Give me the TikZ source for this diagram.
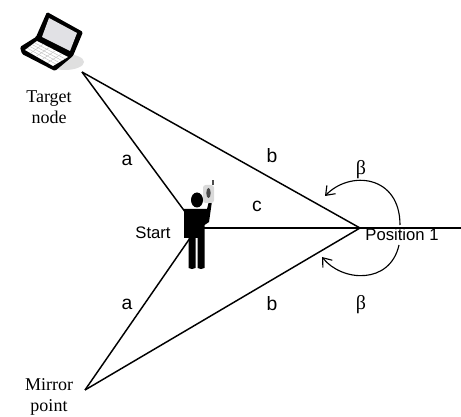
\documentclass[tikz,border=0pt]{standalone}
\usepackage{xcolor}
\usepackage{fontspec}
\setmainfont{Liberation Serif}
\setsansfont{Liberation Sans}
\usetikzlibrary{arrows.meta, calc}

\begin{document}
\begin{tikzpicture}[
  x=0.75pt, y=-0.75pt,
  edge/.style={line width=1.1pt, draw=black},
  angle/.style={-{Straight Barb[length=6pt, width=9pt]}, line width=0.85pt, draw=black},
  sanslabel/.style={font=\sffamily\fontsize{12.5}{14}\selectfont, inner sep=0pt},
  sideletter/.style={font=\sffamily\fontsize{14.5}{16}\selectfont, inner sep=0pt},
  seriflabel/.style={font=\fontsize{13.5}{16}\selectfont, align=center, inner sep=0pt},
  greek/.style={font=\fontsize{15}{16}\selectfont, inner sep=0pt},
  body/.style={fill=black, draw=none}
]
\useasboundingbox (0,0) rectangle (461,417);

% joints
\coordinate (target) at (82,72);
\coordinate (mirror) at (85,390);
\coordinate (start) at (197,228);
\coordinate (pos) at (360,228);
\coordinate (far) at (461,228);
\coordinate (upa) at (400,225);
\coordinate (upb) at (325,196);
\coordinate (lowa) at (399,245);
\coordinate (lowb) at (322,257);

% laptop
\fill[gray!25] (65,62) ellipse [x radius=19, y radius=8];
\fill[black, rounded corners=1pt] (47,12) -- (83,32) -- (73,56) -- (55,71) -- (22,54) -- (20,47) -- (36,37) -- cycle;
\fill[blue!8!gray!22] (49,18) -- (77,33) -- (70,51) -- (42,37) -- cycle;
\fill[white] (37,41) -- (68,57) -- (53,66) -- (25,50) -- cycle;
\foreach \t in {0.2,0.4,0.6,0.8} {
  \draw[gray!50, line width=0.3pt] ($(37,41)!\t!(25,50)$) -- ($(68,57)!\t!(53,66)$);
  \draw[gray!50, line width=0.3pt] ($(37,41)!\t!(68,57)$) -- ($(25,50)!\t!(53,66)$);
}

% lines
\draw[edge] (target) -- (start);
\draw[edge] (target) -- (pos);
\draw[edge] (mirror) -- (start);
\draw[edge] (mirror) -- (pos);
\draw[edge] (start) -- (far);

% person
\fill[body] (197,200) ellipse [x radius=6, y radius=7.5];
\fill[body] (184,209) -- (207,209) -- (209,201) -- (212,201) -- (209,222) -- (204.5,225) -- (204.5,268)
  to[bend left=30] (197.5,268) -- (197.5,238) -- (195.5,238) -- (195.5,268)
  to[bend left=30] (188.5,268) -- (188.5,238) -- (184,238) -- cycle;
\fill[gray!30, rounded corners=2pt] (203,185) rectangle (214,203);
\fill[black!70] (208.5,193) ellipse [x radius=2.2, y radius=5];
\fill[black!70] (212,180) rectangle (213.5,185);

% angles
\draw[angle] (upa) .. controls (400,175) and (350,170) .. (upb);
\draw[angle] (lowa) .. controls (390,285) and (342,282) .. (lowb);

% labels
\node[seriflabel] (targetlabel) at (49,107) {Target\\node};
\node[seriflabel] (mirrorlabel) at (49,397) {Mirror\\point};
\node[sanslabel] (startlabel) at (153,233) {Start};
\node[sanslabel] (poslabel) at (402,235) {Position 1};
\node[sideletter] (a1) at (127,160) {a};
\node[sideletter] (a2) at (127,304) {a};
\node[sideletter] (b1) at (272,156) {b};
\node[sideletter] (b2) at (272,304) {b};
\node[sideletter] (c1) at (257,206) {c};
\node[greek] (beta1) at (361,170) {β};
\node[greek] (beta2) at (361,305) {β};
\end{tikzpicture}
\end{document}
